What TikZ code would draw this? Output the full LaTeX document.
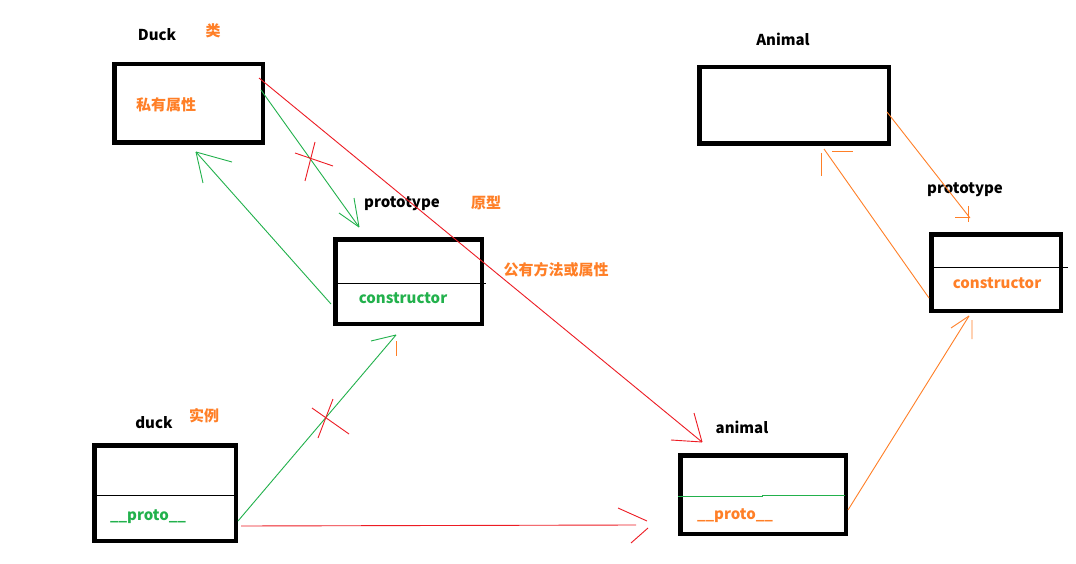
\documentclass[tikz,border=0pt]{standalone}
\usepackage{fontspec}
\setmainfont{Noto Sans CJK SC}
\usepackage{tikz}
\usetikzlibrary{calc}
\definecolor{paintred}{RGB}{237,28,36}
\definecolor{paintgreen}{RGB}{34,177,76}
\definecolor{paintorange}{RGB}{255,127,39}
\tikzstyle{cls} = [draw, line width=4.5pt, inner sep=0pt]
\tikzstyle{lbl} = [inner sep=0pt, font=\bfseries\fontsize{15}{17}\selectfont]
\tikzstyle{note} = [lbl, text=paintorange]
\tikzstyle{thin} = [line width=0.9pt]

\begin{document}
\begin{tikzpicture}[x=1pt,y=-1pt]
\useasboundingbox (0,0) rectangle (1076,564);
\fill[white] (0,0) rectangle (1076,564);

% boxes
\node[cls, minimum width=148.5pt, minimum height=78.5pt] (Duckbox) at (188.5,103.5) {};
\node[cls, minimum width=146.5pt, minimum height=84.5pt] (protoL) at (408.5,281.5) {};
\node[cls, minimum width=141.5pt, minimum height=95.5pt] (duckbox) at (165,493) {};
\node[cls, minimum width=165.5pt, minimum height=78.5pt] (animalbox) at (763,494.5) {};
\node[cls, minimum width=189.5pt, minimum height=76.5pt] (Animalbox) at (794,105.5) {};
\node[cls, minimum width=129.5pt, minimum height=76.5pt] (protoR) at (996,272.5) {};

% dividers
\draw[thin] ([yshift=-1.5pt]protoL.west) -- ++(153,0);
\draw[thin] ([yshift=-2pt]duckbox.west) -- ++(144,0);
\draw[thin,paintgreen] ([yshift=-2pt]animalbox.west) -- ++(84,0) -- ++(0,-1) -- ++(83,0);
\draw[thin] ([yshift=5.5pt]protoR.west) -- ++(139,0);

% labels
\node[lbl] (Duck) at (157,35) {Duck};
\node[note] (lei) at (213,31) {类};
\node[note] (siyou) at (166,105) {私有属性};
\node[lbl] (protoLtitle) at (402,204) {prototype};
\node[note] (yuanxing) at (486,203) {原型};
\node[lbl, text=paintgreen] (ctorL) at (403,298) {constructor};
\node[note] (gongyou) at (556,270) {公有方法或属性};
\node[lbl] (duck) at (154,423) {duck};
\node[note] (shili) at (204,416) {实例};
\node[lbl, text=paintgreen] (protoduck) at (148,517) {\_\_proto\_\_};
\node[lbl] (animal) at (742,427) {animal};
\node[note] (protoanimal) at (735,516) {\_\_proto\_\_};
\node[lbl] (Animal) at (783,39) {Animal};
\node[lbl] (protoRtitle) at (965,190) {prototype};
\node[note] (ctorR) at (997,283) {constructor};

% tips
\coordinate (t1) at ([xshift=-49.5pt,yshift=10pt]protoL.north);
\coordinate (t2) at ([xshift=7.5pt,yshift=-7pt]Duckbox.south);
\coordinate (t3) at ([xshift=-12.5pt,yshift=-9pt]protoL.south);
\coordinate (t4) at ([xshift=-61pt,yshift=11pt]animalbox.north);
\coordinate (t5) at ([xshift=-42pt,yshift=-30.5pt]animalbox.west);
\coordinate (h5) at ([xshift=-31pt,yshift=-28.5pt]animalbox.west);
\coordinate (t6) at ([xshift=-26pt,yshift=14pt]protoR.north);
\coordinate (t7) at ([xshift=30pt,yshift=-3pt]Animalbox.south);
\coordinate (t8) at ([xshift=-27pt,yshift=-3pt]protoR.south);
\coordinate (cross1) at (313,159);
\coordinate (cross2) at (327,417);

% green
\draw[thin,paintgreen] ([xshift=-4pt,yshift=13.5pt]Duckbox.east) -- (t1);
\draw[thin,paintgreen] (t1) -- ++(-5,-29) (t1) -- ++(-20,-14);
\draw[thin,paintgreen] ([xshift=-2pt,yshift=-22.5pt]protoL.west) -- (t2);
\draw[thin,paintgreen] (t2) -- ++(36,10) (t2) -- ++(7,31);
\draw[thin,paintgreen] ([yshift=-28pt]duckbox.east) -- (t3);
\draw[thin,paintgreen] (t3) -- ++(-25,6);
\draw[thin,paintorange] (t3) ++(0,6) -- ++(0,15);

% red
\draw[thin,paintred] (cross1) ++(-18,-6) -- ++(38,13) (cross1) ++(2,-17) -- ++(-10,39);
\draw[thin,paintred] (cross2) ++(-15,-9) -- ++(37,26) (cross2) ++(6,-18) -- ++(-15,39);
\draw[thin,paintred] ([xshift=-6pt,yshift=25.5pt]Duckbox.east) -- (t4);
\draw[thin,paintred] (t4) -- ++(-8,-29) (t4) -- ++(-31,-2);
\draw[thin,paintred] ([xshift=3pt,yshift=-33pt]duckbox.east) -- (t5);
\draw[thin,paintred] (h5) ++(0,-2) -- ++(-29,-13) (h5) ++(1,5) -- ++(-17,15);

% orange
\draw[thin,paintorange] ([xshift=-4pt,yshift=-6.5pt]Animalbox.east) -- (t6);
\draw[thin,paintorange] (t6) ++(-2,-12) -- ++(0,16) (t6) ++(0,-1) -- ++(-15,0);
\draw[thin,paintorange] ([yshift=-25.5pt]protoR.west) -- (t7);
\draw[thin,paintorange] (t7) ++(-3,4) -- ++(0,23) (t7) ++(8,2) -- ++(21,0);
\draw[thin,paintorange] ([yshift=-15.5pt]animalbox.east) -- (t8);
\draw[thin,paintorange] (t8) -- ++(-18,12) (t8) ++(3,4) -- ++(0,19);
\end{tikzpicture}
\end{document}
